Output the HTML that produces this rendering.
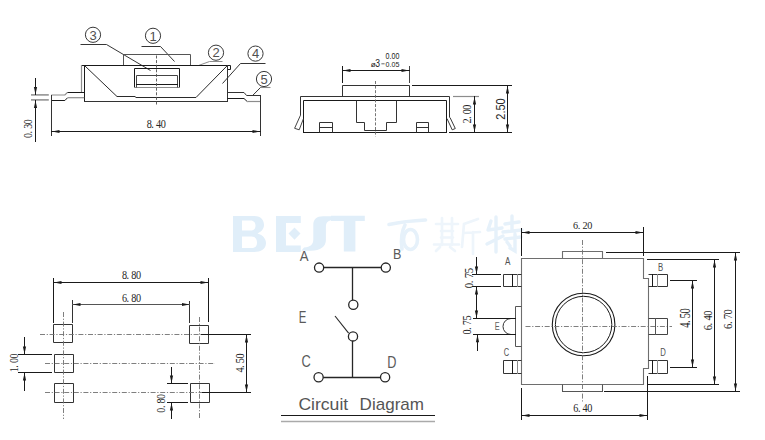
<!DOCTYPE html>
<html><head><meta charset="utf-8"><style>
html,body{margin:0;padding:0;background:#fff;width:765px;height:440px;overflow:hidden}
svg{display:block}
</style></head><body>
<svg width="765" height="440" viewBox="0 0 765 440">
<rect width="765" height="440" fill="#fff"/>
<g fill="#e0eef9" fill-rule="evenodd"><path d="M233 216 H254 C262 216 264 221 264 225 C264 229 261 232 257.5 233.5 C263 235 266 239 266 243 C266 249 261 252 254 252 H233 Z M242 220.5 H250.5 C254 220.5 255.5 223 255.5 225.5 C255.5 228.5 254 230.5 250.5 230.5 H242 Z M242 236.5 H251.5 C255.5 236.5 257 239.5 257 242.5 C257 246 255.5 248 251.5 248 H242 Z"/><path d="M276 216 H300.8 V223 H286 V245.5 H300.8 V252 H276 Z M294.5 227.5 L300.5 233.6 L294.5 239.7 L288.5 233.6 Z"/><path d="M336.8 216.3 H323 C316.5 216.3 313.3 219.5 313.3 225 V239.5 C313.3 244.5 310.5 247 304 247.5 L301.3 250.8 H311 C320.5 250.8 325.9 246.5 325.9 240 V227 C325.9 222.5 328 220.3 332.5 220.3 H335.8 Z"/><path d="M331 215.8 H364.8 V221 H355.4 V251.5 H343.8 V221 H331 Z"/></g>
<g stroke="#e6f1fa" stroke-width="3.6" fill="none" stroke-linecap="round"><path d="M389 224.5 Q405 221 425.5 220"/><path d="M405 225 Q400 234 402 249"/><ellipse cx="410.5" cy="239.5" rx="7" ry="10"/></g>
<g stroke="#eef5fb" stroke-width="2.7" fill="none" stroke-linecap="round"><path d="M442 218 V245 M452 218 V245 M436 224 H458 M441 231 H453 M441 237.5 H453 M434 244.5 H459 M440 247 L436 251 M450 247 L455 251"/><path d="M478 219 L464 224 L462 247 M464 233 L480 232 M473 232 V254"/></g>
<g stroke="#e6f1fa" stroke-width="3.4" fill="none" stroke-linecap="round"><path d="M491 221 L488 230 M488 230 L502 228 M496 217 V252 M487 244 L503 236"/><path d="M505 224 L519 222 M512 216 V231 M503 232 L522 230 M505 239 L521 237 M515 234 V251 L510 248 M507 242 L510 246"/></g>
<circle cx="93" cy="34.8" r="7.6" stroke="#2e2e2e" stroke-width="0.95" fill="none"/>
<text x="93" y="39.5" font-family="Liberation Sans" font-size="13" fill="#505050" text-anchor="middle">3</text>
<circle cx="153" cy="35.8" r="7.6" stroke="#2e2e2e" stroke-width="0.95" fill="none"/>
<text x="153" y="40.5" font-family="Liberation Sans" font-size="13" fill="#505050" text-anchor="middle">1</text>
<circle cx="216" cy="52.7" r="7.6" stroke="#2e2e2e" stroke-width="0.95" fill="none"/>
<text x="216" y="57.400000000000006" font-family="Liberation Sans" font-size="13" fill="#505050" text-anchor="middle">2</text>
<circle cx="255.5" cy="53.6" r="7.6" stroke="#2e2e2e" stroke-width="0.95" fill="none"/>
<text x="255.5" y="58.300000000000004" font-family="Liberation Sans" font-size="13" fill="#505050" text-anchor="middle">4</text>
<circle cx="264" cy="79" r="7.6" stroke="#2e2e2e" stroke-width="0.95" fill="none"/>
<text x="264" y="83.7" font-family="Liberation Sans" font-size="13" fill="#505050" text-anchor="middle">5</text>
<path d="M80.5 44.5 H106.5 L150.5 70.5" stroke="#2a2a2a" stroke-width="0.95" fill="none" />
<path d="M141.5 46.5 H160.5 L174.5 61.5" stroke="#2a2a2a" stroke-width="0.95" fill="none" />
<path d="M222.5 61.5 H209.5 L198.5 65.5" stroke="#8c8c8c" stroke-width="1.0" fill="none" />
<path d="M265.5 63.5 H240.5 L222.5 83.5" stroke="#2a2a2a" stroke-width="0.95" fill="none" />
<path d="M270.5 87.5 H260.5" stroke="#8c8c8c" stroke-width="1.1" fill="none" />
<path d="M260.5 87.5 L253 95.1" stroke="#2a2a2a" stroke-width="0.95" fill="none" />
<path d="M123.5 65.5 V54.5 H190.5 V65.5" stroke="#555" stroke-width="1.0" fill="none" />
<path d="M81.5 65.5 H230.5 V69.5 H227.5" stroke="#1a1a1a" stroke-width="1.0" fill="none" />
<line x1="227.5" y1="65" x2="227.5" y2="101" stroke="#333" stroke-width="1.0" />
<line x1="84.5" y1="65" x2="84.5" y2="102" stroke="#1a1a1a" stroke-width="1.0" />
<line x1="84" y1="101.5" x2="228" y2="101.5" stroke="#333" stroke-width="1.0" />
<line x1="81.5" y1="65" x2="81.5" y2="92" stroke="#8c8c8c" stroke-width="1.2" />
<path d="M85 66 L117 96.5 H135.5" stroke="#2a2a2a" stroke-width="1.0" fill="none" />
<path d="M135.5 97.5 H196 L226.9 66" stroke="#2a2a2a" stroke-width="1.0" fill="none" />
<path d="M134.5 87.5 V68.5 H179.5 V87.5" stroke="#1a1a1a" stroke-width="1.0" fill="none" />
<line x1="134" y1="87.5" x2="180" y2="87.5" stroke="#8c8c8c" stroke-width="1.2" />
<path d="M136.5 87.5 V75.5 H177.5 V87.5" stroke="#444" stroke-width="1.0" fill="none" />
<line x1="136" y1="84.5" x2="178" y2="84.5" stroke="#1a1a1a" stroke-width="1.2" />
<line x1="156.5" y1="55.5" x2="156.5" y2="105" stroke="#505050" stroke-width="0.9" stroke-dasharray="3 1.6"/>
<path d="M51.3 95 H64.9 L67.5 92.4" stroke="#8c8c8c" stroke-width="1.2" fill="none" />
<path d="M67.5 92.5 H84.2" stroke="#1a1a1a" stroke-width="1.0" fill="none" />
<path d="M51.3 100.5 H64.9 L67.5 97.8" stroke="#1a1a1a" stroke-width="1.0" fill="none" />
<path d="M67.5 97.7 H84.2" stroke="#8c8c8c" stroke-width="1.2" fill="none" />
<path d="M227.4 92.5 H244 L246.6 95.5 H260.5" stroke="#333" stroke-width="1.0" fill="none" />
<path d="M227.4 98.5 H244 L247.2 101.5" stroke="#1a1a1a" stroke-width="1.0" fill="none" />
<path d="M247.2 101.5 H260.5" stroke="#8c8c8c" stroke-width="1.2" fill="none" />
<line x1="260.5" y1="95" x2="260.5" y2="136" stroke="#333" stroke-width="1.0" />
<line x1="51.5" y1="95" x2="51.5" y2="136" stroke="#333" stroke-width="1.0" />
<line x1="51" y1="131.5" x2="261" y2="131.5" stroke="#1a1a1a" stroke-width="1.0" />
<polygon points="52.00,131.50 59.50,129.90 59.50,133.10" fill="#1a1a1a"/>
<polygon points="260.00,131.50 252.50,129.90 252.50,133.10" fill="#1a1a1a"/>
<g transform="translate(156,123.8) scale(0.838,1)"><text x="-11.10 -5.55 0.00 5.55" y="4.00" font-family="Liberation Serif" font-size="12.21" fill="#262626">8.40</text></g>
<line x1="31" y1="94.9" x2="48.8" y2="94.9" stroke="#8c8c8c" stroke-width="1.5"/>
<line x1="31" y1="99.9" x2="48.8" y2="99.9" stroke="#8c8c8c" stroke-width="1.5"/>
<line x1="35.5" y1="78" x2="35.5" y2="95" stroke="#1a1a1a" stroke-width="1.0" />
<polygon points="35.50,94.60 33.90,87.10 37.10,87.10" fill="#1a1a1a"/>
<line x1="35.5" y1="100" x2="35.5" y2="142" stroke="#1a1a1a" stroke-width="1.0" />
<polygon points="35.50,100.40 33.90,107.90 37.10,107.90" fill="#1a1a1a"/>
<g transform="translate(28.1,128.8) rotate(-90) scale(0.873,1)"><text x="-10.65 -5.32 0.00 5.32" y="3.75" font-family="Liberation Serif" font-size="11.45" fill="#262626">0.30</text></g>
<path d="M342.5 96.5 V85.5 H409.5 V96.5" stroke="#333" stroke-width="1.0" fill="none" />
<path d="M300.5 115.5 V96.5 H449.5 V117.5" stroke="#333" stroke-width="1.0" fill="none" />
<path d="M303.5 132.5 V100.5 H446.5 V132.5" stroke="#1a1a1a" stroke-width="1.0" fill="none" />
<line x1="303" y1="132.5" x2="447" y2="132.5" stroke="#1a1a1a" stroke-width="1.0" />
<path d="M300.5 115.2 L294.6 128.3 L299.2 129.8 L303.4 118.8" stroke="#444" stroke-width="1.0" fill="none" />
<path d="M450 117.5 L455.3 128.5 L452.2 129.8 L447 118.6" stroke="#3a3a3a" stroke-width="1.0" fill="none" />
<path d="M319.5 132.5 V122.5 H332.5 V132.5 M319.5 127.5 H332.5" stroke="#333" stroke-width="1.0" fill="none" />
<path d="M416.5 132.5 V122.5 H428.5 V132.5 M416.5 127.5 H428.5" stroke="#333" stroke-width="1.0" fill="none" />
<path d="M356.5 100.5 V122.5 H364.5 V130.5 H386.5 V122.5 H396.5 V100.5" stroke="#333" stroke-width="1.0" fill="none" />
<line x1="375.5" y1="81" x2="375.5" y2="136.5" stroke="#666" stroke-width="0.9" stroke-dasharray="3 1.6"/>
<line x1="342.5" y1="66" x2="342.5" y2="83" stroke="#1a1a1a" stroke-width="1.0" />
<line x1="409.5" y1="66" x2="409.5" y2="83" stroke="#444" stroke-width="1.0" />
<line x1="342" y1="70.5" x2="410" y2="70.5" stroke="#1a1a1a" stroke-width="1.0" />
<polygon points="343.00,70.50 350.50,68.90 350.50,72.10" fill="#1a1a1a"/>
<polygon points="409.00,70.50 401.50,68.90 401.50,72.10" fill="#1a1a1a"/>
<text x="370.8" y="66.5" font-family="Liberation Sans" font-size="8" fill="#222">ø</text>
<g transform="translate(375.3,66.5) scale(0.76,1)"><text x="0" y="0" font-family="Liberation Sans" font-size="11.3" fill="#222">3</text></g>
<line x1="381.4" y1="63.8" x2="384.6" y2="63.8" stroke="#555" stroke-width="0.9"/>
<text x="385.6" y="66.5" font-family="Liberation Sans" font-size="8" fill="#222" textLength="13.8" lengthAdjust="spacingAndGlyphs">0.05</text>
<text x="385.6" y="58.9" font-family="Liberation Sans" font-size="8.4" fill="#222" textLength="13.8" lengthAdjust="spacingAndGlyphs">0.00</text>
<line x1="412" y1="85.5" x2="512" y2="85.5" stroke="#1a1a1a" stroke-width="1.0" />
<line x1="453" y1="96.5" x2="479" y2="96.5" stroke="#8c8c8c" stroke-width="1.2" />
<line x1="449" y1="132.5" x2="512" y2="132.5" stroke="#1a1a1a" stroke-width="1.0" />
<line x1="474.5" y1="96" x2="474.5" y2="133" stroke="#1a1a1a" stroke-width="1.0" />
<polygon points="474.50,97.00 472.90,104.50 476.10,104.50" fill="#1a1a1a"/>
<polygon points="474.50,132.00 472.90,124.50 476.10,124.50" fill="#1a1a1a"/>
<line x1="507.5" y1="85" x2="507.5" y2="133" stroke="#1a1a1a" stroke-width="1.0" />
<polygon points="507.50,86.00 505.90,93.50 509.10,93.50" fill="#1a1a1a"/>
<polygon points="507.50,132.00 505.90,124.50 509.10,124.50" fill="#1a1a1a"/>
<g transform="translate(467.1,114.3) rotate(-90) scale(0.859,1)"><text x="-10.82 -5.41 0.00 5.41" y="3.90" font-family="Liberation Serif" font-size="11.91" fill="#262626">2.00</text></g>
<g transform="translate(500,109) rotate(-90)"><text x="0" y="4.75" font-family="Liberation Sans" font-size="13.3" fill="#2a2a2a" text-anchor="middle" textLength="21.5" lengthAdjust="spacingAndGlyphs">2.50</text></g>
<path d="M53.5 324.5 H72.5 V342.5 H53.5 Z" stroke="#333" stroke-width="1.0" fill="none" />
<path d="M54.5 354.5 H73.5 V372.5 H54.5 Z" stroke="#333" stroke-width="1.0" fill="none" />
<path d="M54.5 383.5 H73.5 V402.5 H54.5 Z" stroke="#333" stroke-width="1.0" fill="none" />
<path d="M189.5 325.5 H208.5 V343.5 H189.5 Z" stroke="#333" stroke-width="1.0" fill="none" />
<path d="M190.5 383.5 H209.5 V402.5 H190.5 Z" stroke="#333" stroke-width="1.0" fill="none" />
<line x1="63.5" y1="312" x2="63.5" y2="419" stroke="#707070" stroke-width="0.9" stroke-dasharray="5 1.7 1.2 1.7"/>
<line x1="199.5" y1="317" x2="199.5" y2="418" stroke="#707070" stroke-width="0.9" stroke-dasharray="5 1.7 1.2 1.7"/>
<line x1="40" y1="334.5" x2="201" y2="334.5" stroke="#707070" stroke-width="0.9" stroke-dasharray="5 1.7 1.2 1.7"/>
<line x1="201" y1="334.5" x2="251" y2="334.5" stroke="#1a1a1a" stroke-width="1.0" />
<line x1="45" y1="363.5" x2="215" y2="363.5" stroke="#707070" stroke-width="0.9" stroke-dasharray="5 1.7 1.2 1.7"/>
<line x1="45" y1="392.5" x2="222" y2="392.5" stroke="#707070" stroke-width="0.9" stroke-dasharray="5 1.7 1.2 1.7"/>
<line x1="202" y1="392.5" x2="251" y2="392.5" stroke="#1a1a1a" stroke-width="1.0" />
<line x1="53.5" y1="278" x2="53.5" y2="323" stroke="#1a1a1a" stroke-width="1.0" />
<line x1="208.5" y1="278" x2="208.5" y2="322" stroke="#1a1a1a" stroke-width="1.0" />
<line x1="53" y1="282.5" x2="209" y2="282.5" stroke="#1a1a1a" stroke-width="1.0" />
<polygon points="54.00,282.50 61.50,280.90 61.50,284.10" fill="#1a1a1a"/>
<polygon points="208.00,282.50 200.50,280.90 200.50,284.10" fill="#1a1a1a"/>
<g transform="translate(131.3,275.1) scale(0.882,1)"><text x="-10.66 -5.33 0.00 5.33" y="3.80" font-family="Liberation Serif" font-size="11.60" fill="#262626">8.80</text></g>
<line x1="72.5" y1="300" x2="72.5" y2="323" stroke="#333" stroke-width="1.0" />
<line x1="189.5" y1="301" x2="189.5" y2="323" stroke="#333" stroke-width="1.0" />
<line x1="72" y1="304.5" x2="190" y2="304.5" stroke="#555" stroke-width="1.1" />
<polygon points="73.00,304.50 80.50,302.90 80.50,306.10" fill="#1a1a1a"/>
<polygon points="189.50,304.50 182.00,302.90 182.00,306.10" fill="#1a1a1a"/>
<g transform="translate(131.3,297.9) scale(0.882,1)"><text x="-10.66 -5.33 0.00 5.33" y="3.80" font-family="Liberation Serif" font-size="11.60" fill="#262626">6.80</text></g>
<line x1="18" y1="354.5" x2="52" y2="354.5" stroke="#1a1a1a" stroke-width="1.0" />
<line x1="18" y1="372.5" x2="52" y2="372.5" stroke="#1a1a1a" stroke-width="1.0" />
<line x1="24.5" y1="337" x2="24.5" y2="355" stroke="#1a1a1a" stroke-width="1.0" />
<polygon points="24.50,354.00 22.90,346.50 26.10,346.50" fill="#1a1a1a"/>
<line x1="24.5" y1="372" x2="24.5" y2="391" stroke="#1a1a1a" stroke-width="1.0" />
<polygon points="24.50,373.00 22.90,380.50 26.10,380.50" fill="#1a1a1a"/>
<g transform="translate(14.3,363.1) rotate(-90) scale(0.819,1)"><text x="-11.11 -5.56 0.00 5.56" y="4.00" font-family="Liberation Serif" font-size="12.21" fill="#262626">1.00</text></g>
<line x1="246.5" y1="334" x2="246.5" y2="393" stroke="#1a1a1a" stroke-width="1.0" />
<polygon points="246.50,335.00 244.90,342.50 248.10,342.50" fill="#1a1a1a"/>
<polygon points="246.50,392.00 244.90,384.50 248.10,384.50" fill="#1a1a1a"/>
<g transform="translate(240.4,363.2) rotate(-90) scale(0.838,1)"><text x="-11.22 -5.61 0.00 5.61" y="4.00" font-family="Liberation Serif" font-size="12.21" fill="#262626">4.50</text></g>
<line x1="167" y1="383.5" x2="188" y2="383.5" stroke="#1a1a1a" stroke-width="1.0" />
<line x1="167" y1="402.5" x2="188" y2="402.5" stroke="#1a1a1a" stroke-width="1.0" />
<line x1="171.5" y1="367" x2="171.5" y2="384" stroke="#1a1a1a" stroke-width="1.0" />
<polygon points="171.50,383.00 169.90,375.50 173.10,375.50" fill="#1a1a1a"/>
<line x1="171.5" y1="402" x2="171.5" y2="419" stroke="#1a1a1a" stroke-width="1.0" />
<polygon points="171.50,403.00 169.90,410.50 173.10,410.50" fill="#1a1a1a"/>
<g transform="translate(160.9,403.5) rotate(-90) scale(0.819,1)"><text x="-11.24 -5.62 0.00 5.62" y="4.00" font-family="Liberation Serif" font-size="12.21" fill="#262626">0.80</text></g>
<line x1="324" y1="267.5" x2="381" y2="267.5" stroke="#262626" stroke-width="1.3" />
<line x1="352.5" y1="267.6" x2="352.5" y2="300" stroke="#262626" stroke-width="1.3" />
<circle cx="319.1" cy="267.6" r="4.6" stroke="#262626" stroke-width="1.3" fill="none"/>
<circle cx="385.8" cy="267.6" r="4.6" stroke="#262626" stroke-width="1.3" fill="none"/>
<circle cx="353.3" cy="304.8" r="4.6" stroke="#262626" stroke-width="1.3" fill="none"/>
<circle cx="353" cy="336.4" r="4.6" stroke="#262626" stroke-width="1.3" fill="none"/>
<line x1="335" y1="316" x2="348.6" y2="333.2" stroke="#262626" stroke-width="1.1"/>
<line x1="352.5" y1="341" x2="352.5" y2="377.3" stroke="#262626" stroke-width="1.3" />
<line x1="323.2" y1="377.5" x2="380.5" y2="377.5" stroke="#262626" stroke-width="1.3" />
<circle cx="318.6" cy="377.3" r="4.6" stroke="#262626" stroke-width="1.3" fill="none"/>
<circle cx="385.1" cy="377.3" r="4.6" stroke="#262626" stroke-width="1.3" fill="none"/>
<text x="299.8" y="260.9" font-family="Liberation Sans" font-size="15.2" fill="#5a5a5a" textLength="8.8" lengthAdjust="spacingAndGlyphs">A</text>
<text x="393.1" y="259.1" font-family="Liberation Sans" font-size="15.2" fill="#5a5a5a" textLength="8.4" lengthAdjust="spacingAndGlyphs">B</text>
<text x="298.8" y="322.9" font-family="Liberation Sans" font-size="16" fill="#5a5a5a" textLength="7.6" lengthAdjust="spacingAndGlyphs">E</text>
<text x="301.5" y="366.6" font-family="Liberation Sans" font-size="16.8" fill="#5a5a5a" textLength="9.3" lengthAdjust="spacingAndGlyphs">C</text>
<text x="387.3" y="367.5" font-family="Liberation Sans" font-size="16.4" fill="#5a5a5a" textLength="9.2" lengthAdjust="spacingAndGlyphs">D</text>
<text x="298.4" y="409.8" font-family="Liberation Sans" font-size="16.2" fill="#555" textLength="49.8" lengthAdjust="spacingAndGlyphs">Circuit</text>
<text x="359.6" y="409.8" font-family="Liberation Sans" font-size="16.2" fill="#555" textLength="64.4" lengthAdjust="spacingAndGlyphs">Diagram</text>
<line x1="281" y1="415.5" x2="435" y2="415.5" stroke="#1a1a1a" stroke-width="1.0" />
<line x1="281" y1="421.5" x2="435" y2="421.5" stroke="#aaa" stroke-width="1.6" />
<path d="M521.5 258.5 H643.5 V278.5 H648.5 V368.5 H643.5 V384.5 H521.5 Z" stroke="#6e6e6e" stroke-width="1.1" fill="none" />
<path d="M562.5 258.5 V251.5 H602.5 V258.5" stroke="#6e6e6e" stroke-width="1.1" fill="none" />
<path d="M562.5 384.5 V391.5 H602.5 V384.5" stroke="#555" stroke-width="1.05" fill="none" />
<circle cx="583.6" cy="324.5" r="31.3" stroke="#1a1a1a" stroke-width="1.1" fill="none"/>
<circle cx="583.6" cy="324.5" r="28.2" stroke="#1a1a1a" stroke-width="1.0" fill="none"/>
<line x1="582.5" y1="240" x2="582.5" y2="402" stroke="#707070" stroke-width="0.9" stroke-dasharray="5 1.7 1.2 1.7"/>
<line x1="525.5" y1="326.5" x2="672" y2="326.5" stroke="#707070" stroke-width="0.9" stroke-dasharray="5 1.7 1.2 1.7"/>
<path d="M521.5 274.5 H503.5 V286.5 H521.5" stroke="#333" stroke-width="1.0" fill="none" />
<line x1="512.5" y1="274" x2="512.5" y2="287" stroke="#1a1a1a" stroke-width="1.0" />
<line x1="517.5" y1="274" x2="517.5" y2="287" stroke="#8c8c8c" stroke-width="1.0" />
<path d="M521.5 360.5 H503.5 V373.5 H521.5" stroke="#333" stroke-width="1.0" fill="none" />
<line x1="512.5" y1="360" x2="512.5" y2="374" stroke="#1a1a1a" stroke-width="1.0" />
<line x1="517.5" y1="360" x2="517.5" y2="374" stroke="#8c8c8c" stroke-width="1.0" />
<path d="M521.5 306.5 H515.5 V346.5 H521.5" stroke="#555" stroke-width="1.0" fill="none" />
<path d="M511 318.5 A7.8 7.8 0 0 0 511 334.5" stroke="#333" stroke-width="1" fill="none"/>
<path d="M648.5 274.5 H667.5 V286.5 H648.5" stroke="#333" stroke-width="1.0" fill="none" />
<line x1="652.5" y1="274" x2="652.5" y2="287" stroke="#1a1a1a" stroke-width="1.0" />
<line x1="657.5" y1="274" x2="657.5" y2="287" stroke="#8c8c8c" stroke-width="1.0" />
<path d="M648.5 360.5 H667.5 V373.5 H648.5" stroke="#333" stroke-width="1.0" fill="none" />
<line x1="652.5" y1="360" x2="652.5" y2="374" stroke="#1a1a1a" stroke-width="1.0" />
<line x1="657.5" y1="360" x2="657.5" y2="374" stroke="#8c8c8c" stroke-width="1.0" />
<path d="M648.5 318.5 H667.5 V334.5 H648.5" stroke="#444" stroke-width="1.0" fill="none" />
<line x1="655.5" y1="318" x2="655.5" y2="335" stroke="#555" stroke-width="1.0" />
<text x="505" y="265.4" font-family="Liberation Sans" font-size="10" fill="#505050" textLength="5.4" lengthAdjust="spacingAndGlyphs">A</text>
<text x="658" y="270.6" font-family="Liberation Sans" font-size="10" fill="#505050" textLength="5.2" lengthAdjust="spacingAndGlyphs">B</text>
<text x="494.7" y="329.5" font-family="Liberation Sans" font-size="11" fill="#606060" textLength="4.9" lengthAdjust="spacingAndGlyphs">E</text>
<text x="503.8" y="356.4" font-family="Liberation Sans" font-size="10" fill="#505050" textLength="5.4" lengthAdjust="spacingAndGlyphs">C</text>
<text x="660.2" y="356.1" font-family="Liberation Sans" font-size="10" fill="#505050" textLength="5.6" lengthAdjust="spacingAndGlyphs">D</text>
<line x1="521.5" y1="228" x2="521.5" y2="256" stroke="#1a1a1a" stroke-width="1.0" />
<line x1="643.5" y1="227" x2="643.5" y2="256" stroke="#1a1a1a" stroke-width="1.0" />
<line x1="521" y1="232.5" x2="644" y2="232.5" stroke="#1a1a1a" stroke-width="1.0" />
<polygon points="522.00,232.50 529.50,230.90 529.50,234.10" fill="#1a1a1a"/>
<polygon points="643.00,232.50 635.50,230.90 635.50,234.10" fill="#1a1a1a"/>
<g transform="translate(582.6,225.4) scale(0.957,1)"><text x="-9.92 -4.96 0.00 4.96" y="3.50" font-family="Liberation Serif" font-size="10.69" fill="#262626">6.20</text></g>
<line x1="521.5" y1="388" x2="521.5" y2="420" stroke="#1a1a1a" stroke-width="1.0" />
<line x1="647.5" y1="376" x2="647.5" y2="420" stroke="#1a1a1a" stroke-width="1.0" />
<line x1="521" y1="415.5" x2="648" y2="415.5" stroke="#1a1a1a" stroke-width="1.0" />
<polygon points="522.00,415.50 529.50,413.90 529.50,417.10" fill="#1a1a1a"/>
<polygon points="647.00,415.50 639.50,413.90 639.50,417.10" fill="#1a1a1a"/>
<g transform="translate(582.6,407.7) scale(0.838,1)"><text x="-11.10 -5.55 0.00 5.55" y="4.00" font-family="Liberation Serif" font-size="12.21" fill="#262626">6.40</text></g>
<line x1="606" y1="252.5" x2="740" y2="252.5" stroke="#1a1a1a" stroke-width="1.0" />
<line x1="647" y1="259.5" x2="719" y2="259.5" stroke="#1a1a1a" stroke-width="1.0" />
<line x1="648" y1="384.5" x2="719" y2="384.5" stroke="#1a1a1a" stroke-width="1.0" />
<line x1="604" y1="391.5" x2="740" y2="391.5" stroke="#1a1a1a" stroke-width="1.0" />
<line x1="670" y1="280.5" x2="697" y2="280.5" stroke="#1a1a1a" stroke-width="1.0" />
<line x1="670" y1="367.5" x2="697" y2="367.5" stroke="#1a1a1a" stroke-width="1.0" />
<line x1="692.5" y1="280" x2="692.5" y2="368" stroke="#1a1a1a" stroke-width="1.0" />
<polygon points="692.50,281.00 690.90,288.50 694.10,288.50" fill="#1a1a1a"/>
<polygon points="692.50,367.00 690.90,359.50 694.10,359.50" fill="#1a1a1a"/>
<line x1="714.5" y1="259" x2="714.5" y2="385" stroke="#1a1a1a" stroke-width="1.0" />
<polygon points="714.50,260.00 712.90,267.50 716.10,267.50" fill="#1a1a1a"/>
<polygon points="714.50,384.00 712.90,376.50 716.10,376.50" fill="#1a1a1a"/>
<line x1="735.5" y1="252" x2="735.5" y2="392" stroke="#1a1a1a" stroke-width="1.0" />
<polygon points="735.50,253.00 733.90,260.50 737.10,260.50" fill="#1a1a1a"/>
<polygon points="735.50,391.00 733.90,383.50 737.10,383.50" fill="#1a1a1a"/>
<g transform="translate(685,318.2) rotate(-90) scale(0.762,1)"><text x="-12.60 -6.30 0.00 6.30" y="4.50" font-family="Liberation Serif" font-size="13.74" fill="#262626">4.50</text></g>
<g transform="translate(707.6,320.6) rotate(-90) scale(0.857,1)"><text x="-11.20 -5.60 0.00 5.60" y="4.00" font-family="Liberation Serif" font-size="12.21" fill="#262626">6.40</text></g>
<g transform="translate(727.7,319.3) rotate(-90) scale(0.857,1)"><text x="-11.20 -5.60 0.00 5.60" y="4.00" font-family="Liberation Serif" font-size="12.21" fill="#262626">6.70</text></g>
<line x1="472" y1="274.5" x2="501" y2="274.5" stroke="#1a1a1a" stroke-width="1.0" />
<line x1="472" y1="286.5" x2="501" y2="286.5" stroke="#1a1a1a" stroke-width="1.0" />
<line x1="476.5" y1="257" x2="476.5" y2="275" stroke="#1a1a1a" stroke-width="1.0" />
<polygon points="476.50,274.00 474.90,266.50 478.10,266.50" fill="#1a1a1a"/>
<line x1="476.5" y1="286" x2="476.5" y2="319" stroke="#1a1a1a" stroke-width="1.0" />
<polygon points="476.50,287.00 474.90,294.50 478.10,294.50" fill="#1a1a1a"/>
<polygon points="476.50,318.00 474.90,310.50 478.10,310.50" fill="#1a1a1a"/>
<g transform="translate(469,278.2) rotate(-90) scale(0.876,1)"><text x="-11.42 -5.71 0.00 5.71" y="4.00" font-family="Liberation Serif" font-size="12.21" fill="#262626">0.75</text></g>
<line x1="473" y1="318.5" x2="516" y2="318.5" stroke="#1a1a1a" stroke-width="1.0" />
<line x1="473" y1="334.5" x2="516" y2="334.5" stroke="#1a1a1a" stroke-width="1.0" />
<line x1="477.5" y1="334" x2="477.5" y2="351" stroke="#1a1a1a" stroke-width="1.0" />
<polygon points="477.50,334.80 475.90,342.30 479.10,342.30" fill="#1a1a1a"/>
<g transform="translate(466.5,325.2) rotate(-90) scale(0.838,1)"><text x="-11.22 -5.61 0.00 5.61" y="4.00" font-family="Liberation Serif" font-size="12.21" fill="#262626">0.75</text></g>
</svg></body></html>
